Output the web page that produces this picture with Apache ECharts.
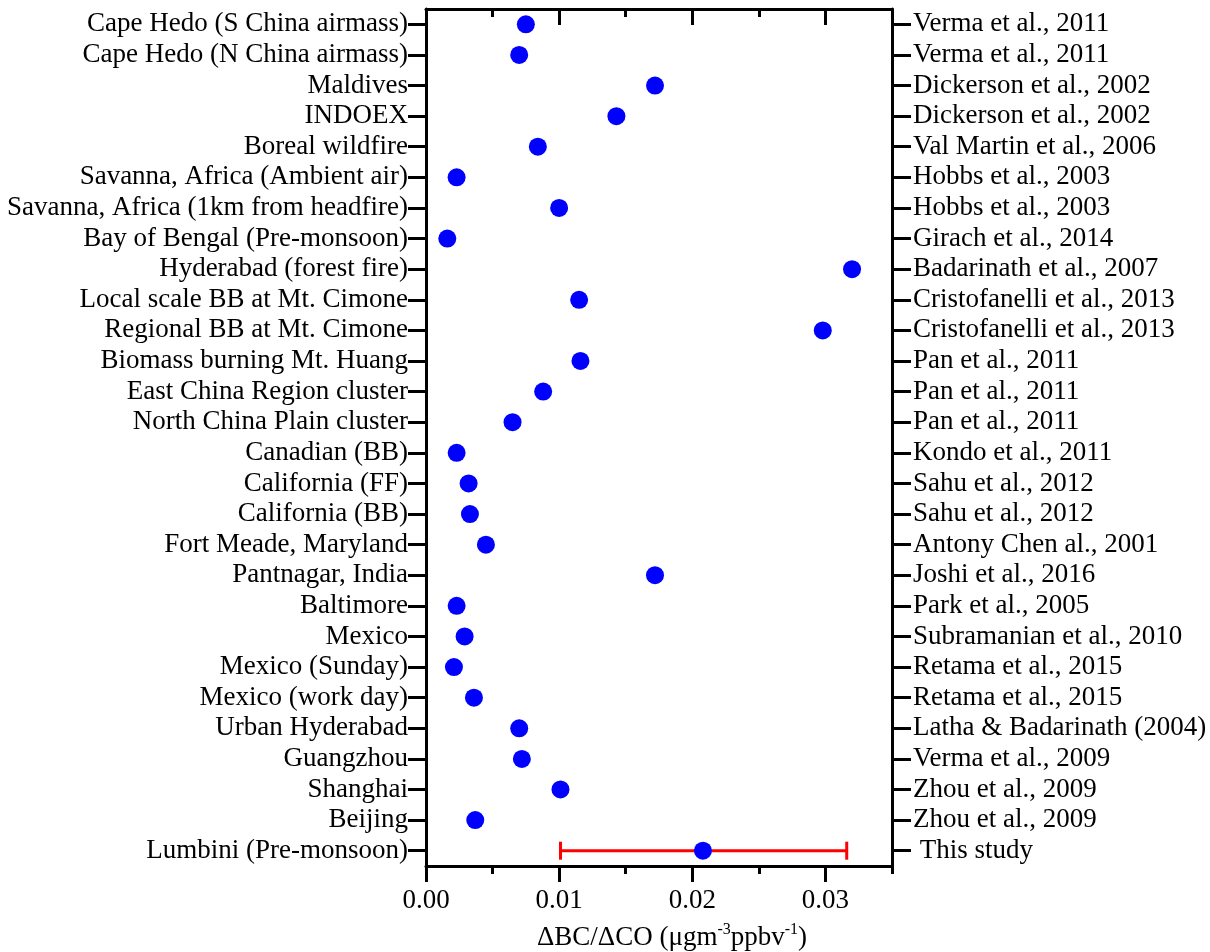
<!DOCTYPE html>
<html>
<head>
<meta charset="utf-8">
<title>ΔBC/ΔCO ratios</title>
<script src="https://cdn.jsdelivr.net/npm/echarts@6/dist/echarts.min.js"></script>
<style>
  html, body { margin: 0; padding: 0; background: #fff; }
  #chart { width: 1210px; height: 952px; }
</style>
</head>
<body>
<div id="chart"></div>
<script>
// Sites, listed top to bottom
const sites = [
  'Cape Hedo (S China airmass)',
  'Cape Hedo (N China airmass)',
  'Maldives',
  'INDOEX',
  'Boreal wildfire',
  'Savanna, Africa (Ambient air)',
  'Savanna, Africa (1km from headfire)',
  'Bay of Bengal (Pre-monsoon)',
  'Hyderabad (forest fire)',
  'Local scale BB at Mt. Cimone',
  'Regional BB at Mt. Cimone',
  'Biomass burning Mt. Huang',
  'East China Region cluster',
  'North China Plain cluster',
  'Canadian (BB)',
  'California (FF)',
  'California (BB)',
  'Fort Meade, Maryland',
  'Pantnagar, India',
  'Baltimore',
  'Mexico',
  'Mexico (Sunday)',
  'Mexico (work day)',
  'Urban Hyderabad',
  'Guangzhou',
  'Shanghai',
  'Beijing',
  'Lumbini (Pre-monsoon)'
];

// Literature source for each site (right-hand axis)
const sources = [
  'Verma et al., 2011',
  'Verma et al., 2011',
  'Dickerson et al., 2002',
  'Dickerson et al., 2002',
  'Val Martin et al., 2006',
  'Hobbs et al., 2003',
  'Hobbs et al., 2003',
  'Girach et al., 2014',
  'Badarinath et al., 2007',
  'Cristofanelli et al., 2013',
  'Cristofanelli et al., 2013',
  'Pan et al., 2011',
  'Pan et al., 2011',
  'Pan et al., 2011',
  'Kondo et al., 2011',
  'Sahu et al., 2012',
  'Sahu et al., 2012',
  'Antony Chen al., 2001',
  'Joshi et al., 2016',
  'Park et al., 2005',
  'Subramanian et al., 2010',
  'Retama et al., 2015',
  'Retama et al., 2015',
  'Latha & Badarinath (2004)',
  'Verma et al., 2009',
  'Zhou et al., 2009',
  'Zhou et al., 2009',
  ' This study'
];

// ΔBC/ΔCO ratio (µg m-3 ppbv-1) for each site
const ratios = [
  0.0075, 0.0070, 0.0172, 0.0143, 0.0084, 0.0023, 0.0100, 0.0016,
  0.0320, 0.0115, 0.0298, 0.0116, 0.0088, 0.0065, 0.0023, 0.0032,
  0.0033, 0.0045, 0.0172, 0.0023, 0.0029, 0.0021, 0.0036, 0.0070,
  0.0072, 0.0101, 0.0037, 0.0208
];

// Range bar for this study: [low, high, site]
const studyRange = [[0.0101, 0.0316, 'Lumbini (Pre-monsoon)']];

// X axis ticks
const majorTicks = [0, 0.01, 0.02, 0.03];
const minorTicks = [0.005, 0.015, 0.025, 0.035];
const xMin = 0;
const xMax = 0.035;

const FONT = '"Liberation Serif", "Times New Roman", serif';
const INK = '#000';
const FS = 27;

const points = ratios.map((v, i) => [v, sites[i]]);
const rangeData = studyRange.map(r => [r[0], r[1], sites.indexOf(r[2])]);

function xAxisDef(pos, ticks, len, inside, withLine, withLabel, name) {
  const ax = {
    type: 'value',
    gridIndex: 0,
    position: pos,
    min: xMin,
    max: xMax,
    interval: 0.005,
    splitLine: { show: false },
    axisLine: { show: withLine, onZero: false, lineStyle: { color: INK, width: 3 } },
    axisTick: {
      show: true, inside: inside, length: len, customValues: ticks,
      lineStyle: { color: INK, width: 3 }
    },
    axisLabel: withLabel ? {
      show: true, customValues: ticks, margin: 21,
      color: INK, fontFamily: FONT, fontSize: FS,
      formatter: v => v.toFixed(2)
    } : { show: false }
  };
  if (name) {
    ax.name = name;
    ax.nameLocation = 'middle';
    ax.nameGap = 56;
    ax.nameTextStyle = {
      color: INK, fontFamily: FONT, fontSize: FS,
      padding: [0, 0, 0, 26],
      rich: {
        t: { fontFamily: FONT, fontSize: FS, color: INK },
        s: { fontFamily: FONT, fontSize: 16, color: INK, padding: [0, 0, 15, 0] }
      }
    };
  }
  return ax;
}

function yAxisDef(pos, labels, tickLen, labelMargin) {
  return {
    type: 'category',
    data: labels,
    inverse: true,
    position: pos,
    boundaryGap: true,
    axisLine: { show: true, onZero: false, lineStyle: { color: INK, width: 3 } },
    axisTick: { show: true, alignWithLabel: true, length: tickLen, lineStyle: { color: INK, width: 3 } },
    axisLabel: { color: INK, fontFamily: FONT, fontSize: FS, margin: labelMargin, interval: 0 },
    splitLine: { show: false }
  };
}

const chart = echarts.init(document.getElementById('chart'), null, { renderer: 'canvas' });

chart.setOption({
  backgroundColor: '#fff',
  animation: false,
  grid: {
    left: 426, right: 318, top: 9, bottom: 86,
    containLabel: false, outerBoundsMode: 'none'
  },
  xAxis: [
    xAxisDef('bottom', majorTicks, 16, false, true, true,
      '{t|ΔBC/ΔCO (μgm}{s|-3}{t|ppbv}{s|-1}{t|)}'),
    xAxisDef('bottom', minorTicks, 8, false, false, false),
    xAxisDef('top', majorTicks, 16, true, true, false),
    xAxisDef('top', minorTicks, 8, true, false, false)
  ],
  yAxis: [
    yAxisDef('left', sites, 18, 18),
    yAxisDef('right', sources, 19, 21)
  ],
  series: [
    {
      name: 'range',
      type: 'custom',
      xAxisIndex: 0,
      yAxisIndex: 0,
      z: 2,
      data: rangeData,
      renderItem: function (params, api) {
        const yi = api.value(2);
        const a = api.coord([api.value(0), yi]);
        const b = api.coord([api.value(1), yi]);
        const cap = 9;
        const st = { stroke: '#ff0000', lineWidth: 3 };
        return {
          type: 'group',
          children: [
            { type: 'line', shape: { x1: a[0], y1: a[1], x2: b[0], y2: b[1] }, style: st },
            { type: 'line', shape: { x1: a[0], y1: a[1] - cap, x2: a[0], y2: a[1] + cap }, style: st },
            { type: 'line', shape: { x1: b[0], y1: b[1] - cap, x2: b[0], y2: b[1] + cap }, style: st }
          ]
        };
      }
    },
    {
      name: 'ratio',
      type: 'scatter',
      xAxisIndex: 0,
      yAxisIndex: 0,
      z: 3,
      symbol: 'circle',
      symbolSize: 18,
      itemStyle: { color: '#0000ff', opacity: 1 },
      data: points
    }
  ]
});
</script>
</body>
</html>
